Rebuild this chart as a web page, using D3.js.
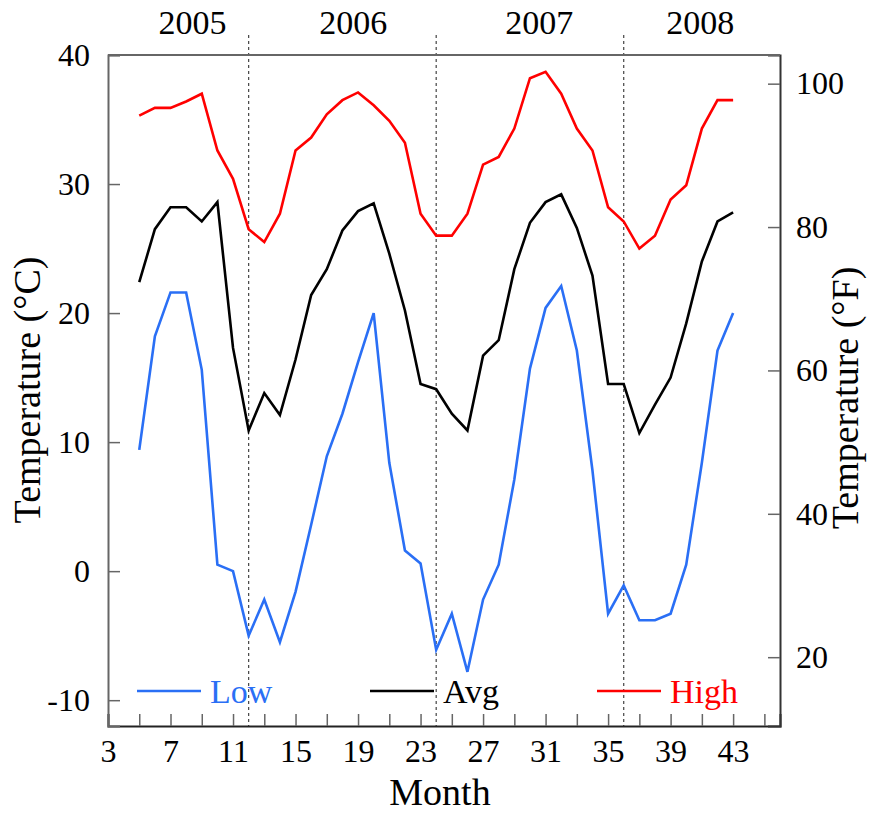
<!DOCTYPE html>
<html>
<head>
<meta charset="utf-8">
<script src="https://cdn.jsdelivr.net/npm/d3@7"></script>
<style>
  body { margin: 0; background: #fff; }
  text { font-family: "Liberation Serif", "Times New Roman", serif; }
</style>
</head>
<body>
<svg id="chart"></svg>
<script>
// months 5..43
const months = d3.range(5, 44)

const low = [9.4, 18.2, 21.6, 21.6, 15.6, 0.5, 0.0, -5.0, -2.2, -5.5,
  -1.6, 3.6, 8.9, 12.2, 16.2, 20.0, 8.4, 1.6, 0.6, -6.1,
  -3.3, -7.8, -2.2, 0.5, 7.1, 15.7, 20.4, 22.1, 17.1, 7.8,
  -3.3, -1.1, -3.8, -3.8, -3.3, 0.5, 8.4, 17.1, 20.0]

const avg = [22.4, 26.5, 28.2, 28.2, 27.1, 28.6, 17.3, 10.9, 13.8, 12.1,
  16.4, 21.4, 23.4, 26.4, 27.9, 28.5, 24.6, 20.2, 14.5, 14.1,
  12.2, 10.9, 16.7, 17.9, 23.4, 27.0, 28.6, 29.2, 26.6, 22.9,
  14.5, 14.5, 10.7, 12.9, 15.0, 19.2, 24.0, 27.1, 27.8]

const high = [35.3, 35.9, 35.9, 36.4, 37.0, 32.6, 30.4, 26.5, 25.5, 27.7,
  32.6, 33.6, 35.4, 36.5, 37.1, 36.1, 34.9, 33.2, 27.7, 26.0,
  26.0, 27.7, 31.5, 32.1, 34.3, 38.2, 38.7, 37.0, 34.3, 32.6,
  28.2, 27.1, 25.0, 26.0, 28.8, 29.9, 34.3, 36.5, 36.5]

const yearBreaks = [12, 24, 36]
const years = ['2005', '2006', '2007', '2008']
const yearCenters = [8.4, 18.7, 30.6, 40.9]

const xTicks = d3.range(3, 46, 2)
const xLabels = d3.range(3, 44, 4)
const cTicks = [-10, 0, 10, 20, 30, 40]
const fTicks = [20, 40, 60, 80, 100]

const seriesNames = ['Low', 'Avg', 'High']
const colors = { Low: '#2a6ff5', Avg: '#000000', High: '#ff0000' }

const W = 871
const H = 813
// plot box edges
const X0 = 108
const X1 = 780
const Y0 = 55
const Y1 = 726
const TICK = 12

const svg = d3.select('#chart').attr('width', W).attr('height', H)
svg.append('rect').attr('width', W).attr('height', H).attr('fill', '#fff')

const x = d3.scaleLinear().domain([3, 46]).range([X0, X1])
const y = d3.scaleLinear().domain([-12, 40]).range([Y1, Y0])
// right axis in Fahrenheit, same span as the Celsius one
const yF = d3.scaleLinear().domain([-12 * 1.8 + 32, 40 * 1.8 + 32]).range([Y1, Y0])

const frame = '#666'
// plain hyphen for negatives, like the original
const plain = (d) => String(d)

// year separators
svg.append('g')
  .selectAll('line')
  .data(yearBreaks)
  .join('line')
  .attr('x1', (d) => x(d)).attr('x2', (d) => x(d))
  .attr('y1', 35).attr('y2', Y1)
  .attr('stroke', '#444')
  .attr('stroke-width', 1.2)
  .attr('stroke-dasharray', '3,3')

// year labels
svg.append('g')
  .selectAll('text')
  .data(years)
  .join('text')
  .attr('x', (d, i) => x(yearCenters[i]))
  .attr('y', 34)
  .attr('text-anchor', 'middle')
  .attr('font-size', 34)
  .text((d) => d)

// lines
const line = d3.line()
  .x((d) => x(d[0]))
  .y((d) => y(d[1]))

const data = { Low: low, Avg: avg, High: high }
seriesNames.forEach((name) => {
  svg.append('path')
    .datum(months.map((m, i) => [m, data[name][i]]))
    .attr('fill', 'none')
    .attr('stroke', colors[name])
    .attr('stroke-width', 2.6)
    .attr('d', line)
})

const styleTicks = (g, domainColor) => {
  g.select('.domain').attr('stroke', domainColor).attr('stroke-width', 2)
  g.selectAll('.tick line').attr('stroke', frame).attr('stroke-width', 1.5)
  g.selectAll('.tick text')
    .attr('fill', '#000')
    .attr('font-size', 32)
    .attr('font-family', '"Liberation Serif", serif')
}

// bottom axis, ticks pointing inward
const xAxis = d3.axisBottom(x)
  .tickValues(xTicks)
  .tickSize(-TICK)
  .tickPadding(13)
  .tickFormat((d) => (xLabels.includes(d) ? plain(d) : ''))

svg.append('g')
  .attr('transform', `translate(0,${Y1})`)
  .call(xAxis)
  .call((g) => styleTicks(g, '#222'))

// left axis
const yAxis = d3.axisLeft(y)
  .tickValues(cTicks)
  .tickSize(-TICK)
  .tickPadding(18)
  .tickFormat(plain)

svg.append('g')
  .attr('transform', `translate(${X0},0)`)
  .call(yAxis)
  .call((g) => styleTicks(g, frame))

// right axis (°F)
const fAxis = d3.axisRight(yF)
  .tickValues(fTicks)
  .tickSize(-TICK)
  .tickPadding(16)
  .tickFormat(plain)

svg.append('g')
  .attr('transform', `translate(${X1},0)`)
  .call(fAxis)
  .call((g) => styleTicks(g, '#333'))

// top border
svg.append('line')
  .attr('x1', X0).attr('x2', X1)
  .attr('y1', Y0).attr('y2', Y0)
  .attr('stroke', frame).attr('stroke-width', 2)

// axis titles
svg.append('text')
  .attr('x', 440).attr('y', 805)
  .attr('text-anchor', 'middle')
  .attr('font-size', 38)
  .text('Month')

svg.append('text')
  .attr('transform', 'translate(40,390) rotate(-90)')
  .attr('text-anchor', 'middle')
  .attr('font-size', 38)
  .text('Temperature (°C)')

svg.append('text')
  .attr('transform', 'translate(858,398) rotate(-90)')
  .attr('text-anchor', 'middle')
  .attr('font-size', 38)
  .text('Temperature (°F)')

// legend
const legendX = [137, 370, 597]
const legend = svg.append('g')
  .selectAll('g')
  .data(seriesNames)
  .join('g')
  .attr('transform', (d, i) => `translate(${legendX[i]},691)`)

legend.append('line')
  .attr('x1', 0).attr('x2', 64)
  .attr('stroke', (d) => colors[d])
  .attr('stroke-width', 2.6)

legend.append('text')
  .attr('x', 73).attr('y', 12)
  .attr('font-size', 34)
  .attr('fill', (d) => colors[d])
  .text((d) => d)
</script>
</body>
</html>
